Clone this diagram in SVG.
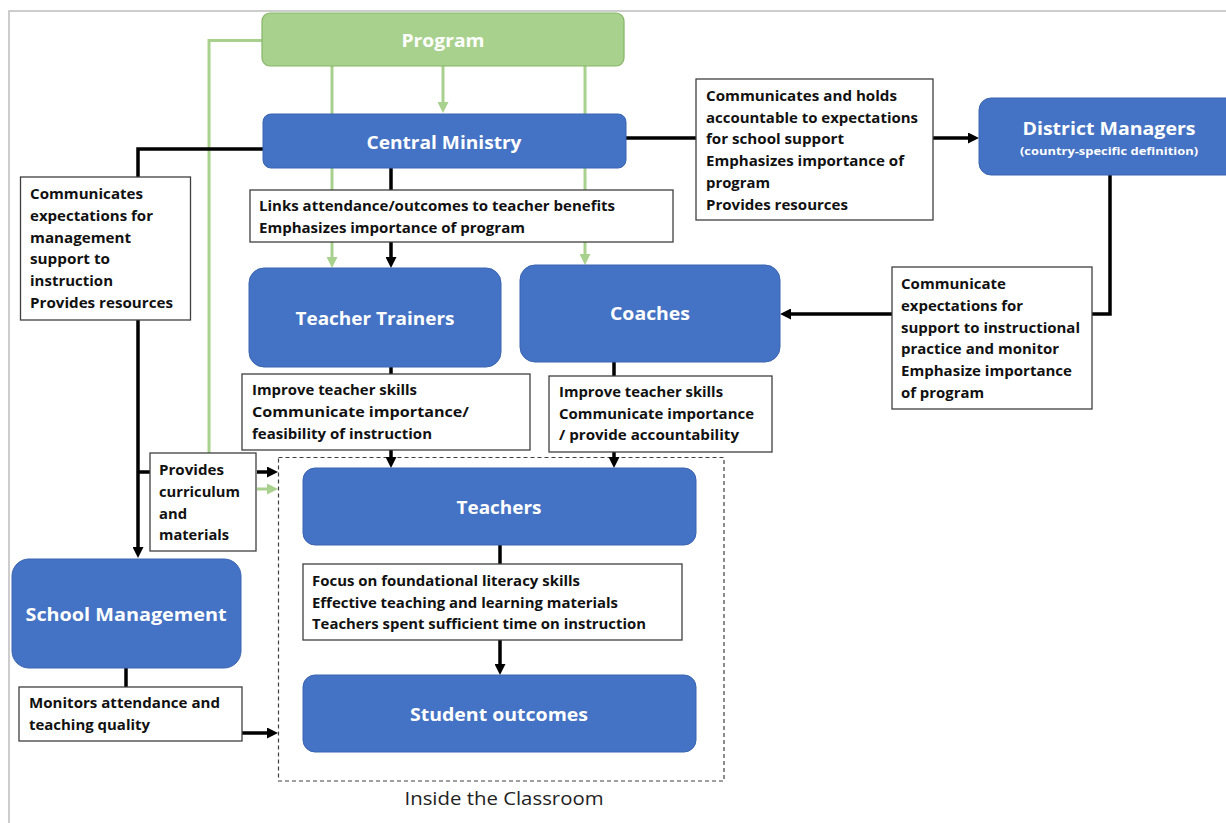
<svg xmlns="http://www.w3.org/2000/svg" width="1226" height="823" viewBox="0 0 1226 823">
  <style>
    .node { fill: #4472C4; stroke: #3A64B0; stroke-width: 1; }
    .prog { fill: #A9D18E; stroke: #86B566; stroke-width: 1.2; }
    .nt { font-family: "Open Sans", "Liberation Sans", sans-serif; font-weight: 700; font-size: 18px; fill: #FFFFFF; text-anchor: middle; }
    .sub { font-size: 11px; }
    .lbox { fill: #FFFFFF; stroke: #3F3F3F; stroke-width: 1.3; }
    .lt { font-family: "Open Sans", "Liberation Sans", sans-serif; font-weight: 700; font-size: 14.5px; fill: #111111; }
    .cap { font-family: "Open Sans", "Liberation Sans", sans-serif; font-weight: 400; font-size: 19px; fill: #222222; text-anchor: middle; }
    .c { fill: none; stroke: #000000; stroke-width: 3.5; stroke-linejoin: miter; }
    .g { fill: none; stroke: #A9D18E; stroke-width: 3; stroke-linejoin: miter; }
  </style>
  <defs>
    <marker id="ab" markerWidth="12" markerHeight="11" refX="7" refY="5.5" orient="auto" markerUnits="userSpaceOnUse">
      <path d="M0,0 L11,5.5 L0,11 Z" fill="#000000"/>
    </marker>
    <marker id="ag" markerWidth="12" markerHeight="11" refX="7" refY="5.5" orient="auto" markerUnits="userSpaceOnUse">
      <path d="M0,0 L11,5.5 L0,11 Z" fill="#A9D18E"/>
    </marker>
  </defs>

  <rect x="0" y="0" width="1226" height="823" fill="#FFFFFF"/>
  <rect x="9" y="11" width="1230" height="830" fill="none" stroke="#BDBDBD" stroke-width="1.5"/>

  <!-- classroom boundary -->
  <g id="classroom">
    <rect x="278.5" y="457.5" width="445.5" height="323.5" fill="none" stroke="#404040" stroke-width="1.2" stroke-dasharray="4 3"/>
    <text class="cap" x="504" y="805" textLength="199" lengthAdjust="spacingAndGlyphs">Inside the Classroom</text>
  </g>

  <!-- connectors -->
  <g id="connectors">
    <path class="g" d="M443,66 V109" marker-end="url(#ag)"/>
    <path class="g" d="M332,66 V264" marker-end="url(#ag)"/>
    <path class="g" d="M585,66 V261" marker-end="url(#ag)"/>
    <path class="g" d="M262,40.5 H209 V453"/>
    <path class="g" d="M257,489 H274" marker-end="url(#ag)"/>

    <path class="c" d="M263,149 H138 V554" marker-end="url(#ab)"/>
    <path class="c" d="M138,472 H150"/>
    <path class="c" d="M257,472 H274" marker-end="url(#ab)"/>
    <path class="c" d="M391,168 V264" marker-end="url(#ab)"/>
    <path class="c" d="M626,138 H975" marker-end="url(#ab)"/>
    <path class="c" d="M1110,175 V314 H784" marker-end="url(#ab)"/>
    <path class="c" d="M391,367 V464" marker-end="url(#ab)"/>
    <path class="c" d="M614,362 V464" marker-end="url(#ab)"/>
    <path class="c" d="M500,545 V671" marker-end="url(#ab)"/>
    <path class="c" d="M126,668 V687"/>
    <path class="c" d="M242,733 H274" marker-end="url(#ab)"/>
  </g>

  <!-- nodes -->
  <g id="program">
    <rect class="prog" x="262" y="13" width="362" height="53" rx="8"/>
    <text class="nt" x="443" y="47" textLength="83" lengthAdjust="spacingAndGlyphs">Program</text>
  </g>
  <g id="central-ministry">
    <rect class="node" x="263" y="114" width="363" height="54" rx="8"/>
    <text class="nt" x="444" y="149" textLength="155" lengthAdjust="spacingAndGlyphs">Central Ministry</text>
  </g>
  <g id="district-managers">
    <rect class="node" x="979" y="98" width="260" height="77" rx="12"/>
    <text class="nt" x="1109" y="135" textLength="173" lengthAdjust="spacingAndGlyphs">District Managers</text>
    <text class="nt sub" x="1109" y="155" textLength="178" lengthAdjust="spacingAndGlyphs">(country-specific definition)</text>
  </g>
  <g id="teacher-trainers">
    <rect class="node" x="249" y="268" width="252" height="99" rx="15"/>
    <text class="nt" x="375" y="325" textLength="159" lengthAdjust="spacingAndGlyphs">Teacher Trainers</text>
  </g>
  <g id="coaches">
    <rect class="node" x="520" y="265" width="260" height="97" rx="15"/>
    <text class="nt" x="650" y="320" textLength="80" lengthAdjust="spacingAndGlyphs">Coaches</text>
  </g>
  <g id="teachers">
    <rect class="node" x="303" y="468" width="393" height="77" rx="12"/>
    <text class="nt" x="499" y="514" textLength="85" lengthAdjust="spacingAndGlyphs">Teachers</text>
  </g>
  <g id="student-outcomes">
    <rect class="node" x="303" y="675" width="393" height="77" rx="12"/>
    <text class="nt" x="499" y="721" textLength="178" lengthAdjust="spacingAndGlyphs">Student outcomes</text>
  </g>
  <g id="school-management">
    <rect class="node" x="12" y="559" width="229" height="109" rx="17"/>
    <text class="nt" x="126" y="621" textLength="201" lengthAdjust="spacingAndGlyphs">School Management</text>
  </g>

  <!-- connector labels -->
  <g id="label-cm-dm">
    <rect class="lbox" x="696" y="79" width="237" height="141"/>
    <text class="lt" x="706" y="101" textLength="191" lengthAdjust="spacingAndGlyphs">Communicates and holds</text>
    <text class="lt" x="706" y="122.5" textLength="212" lengthAdjust="spacingAndGlyphs">accountable to expectations</text>
    <text class="lt" x="706" y="144" textLength="138" lengthAdjust="spacingAndGlyphs">for school support</text>
    <text class="lt" x="706" y="166" textLength="198" lengthAdjust="spacingAndGlyphs">Emphasizes importance of</text>
    <text class="lt" x="706" y="188" textLength="64" lengthAdjust="spacingAndGlyphs">program</text>
    <text class="lt" x="706" y="209.5" textLength="142" lengthAdjust="spacingAndGlyphs">Provides resources</text>
  </g>
  <g id="label-cm-tt">
    <rect class="lbox" x="250" y="190" width="423" height="52"/>
    <text class="lt" x="259" y="211" textLength="356" lengthAdjust="spacingAndGlyphs">Links attendance/outcomes to teacher benefits</text>
    <text class="lt" x="259" y="232.5" textLength="266" lengthAdjust="spacingAndGlyphs">Emphasizes importance of program</text>
  </g>
  <g id="label-cm-sm">
    <rect class="lbox" x="20.5" y="177" width="170" height="143"/>
    <text class="lt" x="30" y="199" textLength="113" lengthAdjust="spacingAndGlyphs">Communicates</text>
    <text class="lt" x="30" y="221" textLength="123" lengthAdjust="spacingAndGlyphs">expectations for</text>
    <text class="lt" x="30" y="242.5" textLength="101" lengthAdjust="spacingAndGlyphs">management</text>
    <text class="lt" x="30" y="264" textLength="80" lengthAdjust="spacingAndGlyphs">support to</text>
    <text class="lt" x="30" y="286" textLength="83" lengthAdjust="spacingAndGlyphs">instruction</text>
    <text class="lt" x="30" y="308" textLength="143" lengthAdjust="spacingAndGlyphs">Provides resources</text>
  </g>
  <g id="label-dm-coaches">
    <rect class="lbox" x="892" y="267" width="200" height="142"/>
    <text class="lt" x="901" y="289" textLength="105" lengthAdjust="spacingAndGlyphs">Communicate</text>
    <text class="lt" x="901" y="311" textLength="122" lengthAdjust="spacingAndGlyphs">expectations for</text>
    <text class="lt" x="901" y="332.5" textLength="179" lengthAdjust="spacingAndGlyphs">support to instructional</text>
    <text class="lt" x="901" y="354" textLength="158" lengthAdjust="spacingAndGlyphs">practice and monitor</text>
    <text class="lt" x="901" y="376" textLength="171" lengthAdjust="spacingAndGlyphs">Emphasize importance</text>
    <text class="lt" x="901" y="398" textLength="83" lengthAdjust="spacingAndGlyphs">of program</text>
  </g>
  <g id="label-tt-teachers">
    <rect class="lbox" x="242" y="374" width="288" height="76"/>
    <text class="lt" x="252" y="395" textLength="165" lengthAdjust="spacingAndGlyphs">Improve teacher skills</text>
    <text class="lt" x="252" y="417" textLength="217" lengthAdjust="spacingAndGlyphs">Communicate importance/</text>
    <text class="lt" x="252" y="438.5" textLength="180" lengthAdjust="spacingAndGlyphs">feasibility of instruction</text>
  </g>
  <g id="label-coaches-teachers">
    <rect class="lbox" x="549" y="376" width="223" height="76"/>
    <text class="lt" x="559" y="397" textLength="164" lengthAdjust="spacingAndGlyphs">Improve teacher skills</text>
    <text class="lt" x="559" y="418.5" textLength="195" lengthAdjust="spacingAndGlyphs">Communicate importance</text>
    <text class="lt" x="559" y="440" textLength="180" lengthAdjust="spacingAndGlyphs">/ provide accountability</text>
  </g>
  <g id="label-curriculum">
    <rect class="lbox" x="150" y="453" width="106" height="98"/>
    <text class="lt" x="159" y="475" textLength="65" lengthAdjust="spacingAndGlyphs">Provides</text>
    <text class="lt" x="159" y="497" textLength="81" lengthAdjust="spacingAndGlyphs">curriculum</text>
    <text class="lt" x="159" y="518.5" textLength="28" lengthAdjust="spacingAndGlyphs">and</text>
    <text class="lt" x="159" y="540" textLength="70" lengthAdjust="spacingAndGlyphs">materials</text>
  </g>
  <g id="label-teachers-outcomes">
    <rect class="lbox" x="303" y="564" width="379" height="76"/>
    <text class="lt" x="312" y="586" textLength="268" lengthAdjust="spacingAndGlyphs">Focus on foundational literacy skills</text>
    <text class="lt" x="312" y="607.5" textLength="306" lengthAdjust="spacingAndGlyphs">Effective teaching and learning materials</text>
    <text class="lt" x="312" y="629" textLength="334" lengthAdjust="spacingAndGlyphs">Teachers spent sufficient time on instruction</text>
  </g>
  <g id="label-sm-classroom">
    <rect class="lbox" x="19" y="687" width="223" height="54"/>
    <text class="lt" x="29" y="708" textLength="191" lengthAdjust="spacingAndGlyphs">Monitors attendance and</text>
    <text class="lt" x="29" y="729.5" textLength="121" lengthAdjust="spacingAndGlyphs">teaching quality</text>
  </g>
</svg>
